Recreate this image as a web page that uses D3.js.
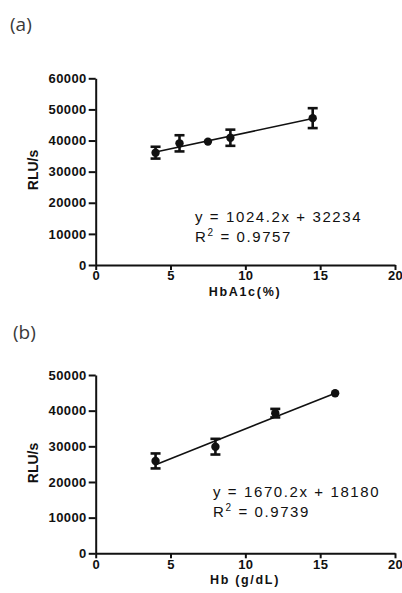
<!DOCTYPE html>
<html>
<head>
<meta charset="utf-8">
<script src="https://cdnjs.cloudflare.com/ajax/libs/d3/7.8.5/d3.min.js"></script>
<style>
  body { margin: 0; background: #fff; }
  svg { display: block; }
  .tick text { font-family: "Liberation Sans", Arial, sans-serif; font-weight: bold; font-size: 13px; fill: #111; }
</style>
</head>
<body>
<svg id="chart" width="402" height="593"></svg>
<script>
// panel (a) HbA1c
const hba1cX = [4, 5.6, 7.5, 9, 14.5];
const hba1cY = [36100, 39100, 39650, 40900, 47200];
const hba1cErr = [1900, 2600, 0, 2600, 3200];
const fitA = { slope: 1024.2, intercept: 32234, r2: "0.9757" };

// panel (b) Hb
const hbX = [4, 8, 12, 16];
const hbY = [25900, 29900, 39300, 44900];
const hbErr = [2100, 2200, 1200, 0];
const fitB = { slope: 1670.2, intercept: 18180, r2: "0.9739" };

const xTicks = [0, 5, 10, 15, 20];
const yTicksA = [0, 10000, 20000, 30000, 40000, 50000, 60000];
const yTicksB = [0, 10000, 20000, 30000, 40000, 50000];

const svg = d3.select("#chart");

function drawPanel(opt) {
    const g = svg.append("g");
    const x = d3.scaleLinear().domain([0, 20]).range([95.7, 395]);
    const y = d3.scaleLinear().domain([0, opt.yMax]).range([opt.bottom, opt.top]);

    // panel letter
    g.append("text")
        .attr("x", opt.letterX)
        .attr("y", opt.letterY)
        .style("font-family", "'Open Sans', sans-serif")
        .style("font-size", "19px")
        .style("fill", "#3a3a3a")
        .text(opt.letter);

    const yAxis = g.append("g")
        .attr("transform", "translate(" + x(0) + ",0)")
        .call(d3.axisLeft(y).tickValues(opt.yTicks).tickSize(7).tickSizeOuter(0).tickPadding(2).tickFormat(d3.format("d")));
    const xAxis = g.append("g")
        .attr("transform", "translate(0," + y(0) + ")")
        .call(d3.axisBottom(x).tickValues(xTicks).tickSize(5).tickSizeOuter(0).tickPadding(1));

    [xAxis, yAxis].forEach(a => {
        a.select(".domain").attr("stroke", "#111").attr("stroke-width", 2);
        a.selectAll(".tick line").attr("stroke", "#111").attr("stroke-width", 2);
        a.selectAll(".tick text").style("letter-spacing", "0.4px");
    });

    // axis titles
    g.append("text")
        .attr("transform", "translate(33," + opt.yTitleY + ") rotate(-90)")
        .attr("text-anchor", "middle")
        .attr("dy", "0.35em")
        .style("font-family", "'Liberation Sans', Arial, sans-serif")
        .style("font-weight", "bold")
        .style("font-size", "14px")
        .style("fill", "#111")
        .text("RLU/s");

    g.append("text")
        .attr("x", 245)
        .attr("y", opt.xTitleY)
        .attr("text-anchor", "middle")
        .style("font-family", "'Liberation Sans', Arial, sans-serif")
        .style("font-weight", "bold")
        .style("font-size", "12.5px")
        .style("letter-spacing", "1.7px")
        .style("fill", "#111")
        .text(opt.xTitle);

    // regression line over the data range
    const ext = d3.extent(opt.xs);
    const line = d3.line()
        .x(d => x(d))
        .y(d => y(opt.fit.slope * d + opt.fit.intercept));
    g.append("path")
        .datum(ext)
        .attr("d", line)
        .attr("fill", "none")
        .attr("stroke", "#111")
        .attr("stroke-width", 1.6);

    const pts = opt.xs.map((v, i) => ({ x: v, y: opt.ys[i], e: opt.errs[i] }));

    // error bars
    const eb = g.selectAll(".eb")
        .data(pts.filter(d => d.e > 0))
        .enter()
        .append("g")
        .attr("stroke", "#111")
        .attr("stroke-width", 2.6);
    eb.append("line")
        .attr("x1", d => x(d.x)).attr("x2", d => x(d.x))
        .attr("y1", d => y(d.y - d.e)).attr("y2", d => y(d.y + d.e));
    eb.append("line")
        .attr("x1", d => x(d.x) - 5).attr("x2", d => x(d.x) + 5)
        .attr("y1", d => y(d.y + d.e)).attr("y2", d => y(d.y + d.e));
    eb.append("line")
        .attr("x1", d => x(d.x) - 5).attr("x2", d => x(d.x) + 5)
        .attr("y1", d => y(d.y - d.e)).attr("y2", d => y(d.y - d.e));

    g.selectAll(".pt")
        .data(pts)
        .enter()
        .append("circle")
        .attr("cx", d => x(d.x))
        .attr("cy", d => y(d.y))
        .attr("r", 4.2)
        .attr("fill", "#111");

    // equation
    const eq = g.append("text")
        .style("font-family", "'Liberation Sans', Arial, sans-serif")
        .style("font-size", "15px")
        .style("letter-spacing", "1.6px")
        .style("fill", "#111");
    eq.append("tspan")
        .attr("x", opt.eqX)
        .attr("y", opt.eqY)
        .text("y = " + opt.fit.slope.toFixed(1) + "x + " + opt.fit.intercept);
    eq.append("tspan")
        .attr("x", opt.eqX)
        .attr("y", opt.eqY + 20)
        .text("R");
    eq.append("tspan")
        .attr("dy", -6)
        .style("font-size", "10px")
        .text("2");
    eq.append("tspan")
        .attr("dy", 6)
        .text(" = " + opt.fit.r2);
}

drawPanel({
    letter: "(a)", letterX: 10, letterY: 31,
    yMax: 60000, top: 78.3, bottom: 265, yTicks: yTicksA,
    yTitleY: 170, xTitle: "HbA1c(%)", xTitleY: 295.5,
    xs: hba1cX, ys: hba1cY, errs: hba1cErr, fit: fitA,
    eqX: 195, eqY: 222
});

drawPanel({
    letter: "(b)", letterX: 13, letterY: 339,
    yMax: 50000, top: 375, bottom: 553.3, yTicks: yTicksB,
    yTitleY: 463, xTitle: "Hb (g/dL)", xTitleY: 584,
    xs: hbX, ys: hbY, errs: hbErr, fit: fitB,
    eqX: 213, eqY: 497
});
</script>
</body>
</html>
